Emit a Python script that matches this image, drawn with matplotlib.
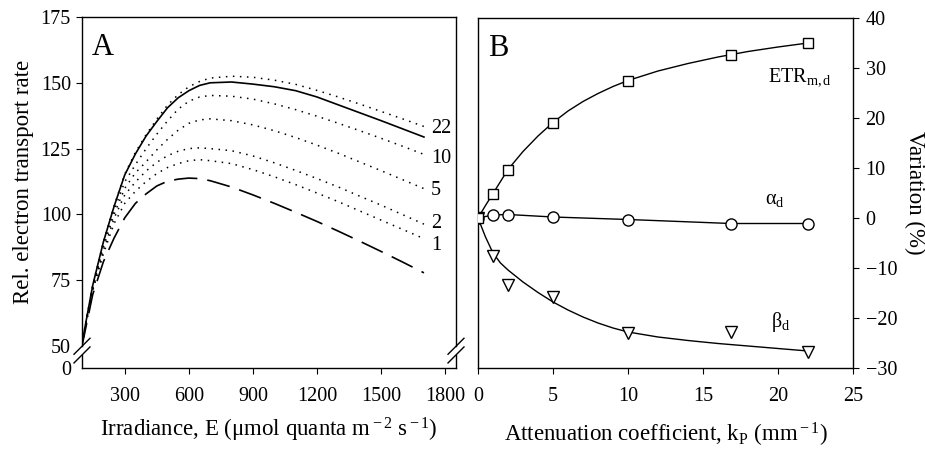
import matplotlib
matplotlib.use('Agg')
import matplotlib.pyplot as plt
from matplotlib import transforms

plt.rcParams['font.family'] = 'Liberation Serif'
plt.rcParams['mathtext.fontset'] = 'custom'
plt.rcParams['mathtext.rm'] = 'Liberation Serif'
plt.rcParams['mathtext.it'] = 'Liberation Serif:italic'

# ---- panel A : relative ETR vs irradiance ----
irr = [100, 150, 200, 250, 300, 350, 400, 450, 500, 550, 600, 650, 700,
       800, 900, 1000, 1100, 1200, 1300, 1400, 1500, 1600, 1700]
etr_solid = [51, 73, 89.5, 103, 115, 123, 129.8, 135.3, 140.5, 144.3, 147, 149, 150,
             150.3, 149.5, 148.5, 147, 144.6, 141.6, 138.6, 135.6, 132.5, 129.4]
etr_22 = [51, 73, 89.5, 103.2, 115.3, 123.6, 130.3, 136.2, 141.5, 145.5, 148.5, 150.5, 151.8,
          152.5, 152.1, 151, 149.4, 147.1, 144.6, 141.9, 139.1, 136.3, 133.4]
etr_10 = [51, 72.5, 88.5, 101.5, 112.4, 118.9, 125, 130.5, 135.5, 140, 143, 144.6, 145.2,
          144.9, 143.8, 142, 139.8, 137.3, 134.6, 131.8, 128.9, 125.9, 122.8]
etr_5 = [51, 72, 87.5, 100, 109.9, 115.8, 120, 124.5, 128.5, 132, 134.6, 135.9, 136.3,
         135.6, 134, 131.8, 129.2, 126.3, 123.2, 119.9, 116.6, 113.2, 109.8]
etr_2 = [50.5, 71.5, 86.3, 98.5, 107.4, 112.3, 116.5, 119.8, 122.3, 124, 125, 125.3, 125,
         124.2, 122.2, 119.6, 116.7, 113.6, 110.4, 106.9, 103.5, 99.9, 96.3]
etr_1 = [50.5, 71, 85, 96.5, 104.2, 108.8, 112.5, 115.5, 117.8, 119.3, 120.4, 120.8, 120.4,
         119.3, 117, 114.3, 111.3, 108.1, 104.8, 101.3, 97.8, 94.3, 90.8]
etr_dash = [50, 69.5, 82, 91, 98.7, 104.2, 107.8, 110.8, 112.6, 113.4, 113.8, 113.6, 112.8,
            110.4, 107.4, 104.2, 100.8, 97.3, 93.6, 89.8, 85.9, 81.9, 77.8]
dotted_labels = ['22', '10', '5', '2', '1']
dotted_label_y = [132.6, 121.3, 109, 96.5, 88]

# ---- panel B : variation vs attenuation coefficient ----
kp = [0, 1, 2, 5, 10, 16.85, 22]
var_etr = [0, 4.9, 9.7, 19.1, 27.5, 32.7, 35.0]
var_alpha = [0, 0.6, 0.7, 0.2, -0.3, -1.1, -1.1]
var_beta = [0, -7.6, -13.3, -15.7, -22.9, -22.8, -26.8]

kp_fit = [0, 0.5, 1, 1.5, 2, 3, 4, 5, 6, 7, 8, 9, 10, 12, 14, 16, 18, 20, 22]
etr_fit = [0, 2.5, 4.9, 7.3, 9.7, 13.3, 16.4, 19.1, 21.4, 23.3, 24.9, 26.3, 27.5,
           29.4, 30.9, 32.2, 33.3, 34.2, 35.0]
beta_fit = [0, -3.8, -7.0, -9.0, -10.4, -12.8, -14.9, -16.8, -18.4, -19.8, -21, -22, -22.8,
            -23.8, -24.5, -25.1, -25.6, -26.1, -26.6]

fig = plt.figure(figsize=(9.25, 4.49), dpi=100)
axA = fig.add_axes([82/925, 1-368/449, (456-82)/925, (368-17)/449])
axB = fig.add_axes([478/925, 1-368/449, (853-478)/925, (368-18)/449])

FS = 14.5
LFS = 16.5
dots = (0, (1, 3.6))

# panel A
y_zero = 50 - 22/(65.8/25)   # where "0" sits below the axis break
axA.plot(irr, etr_solid, color='k', lw=1.2)
for ys in [etr_22, etr_10, etr_5, etr_2, etr_1]:
    axA.plot(irr, ys, color='k', lw=1.1, ls=dots)
axA.plot(irr, etr_dash, color='k', lw=1.2, ls=(0, (14, 6)))
for lab, yy in zip(dotted_labels, dotted_label_y):
    axA.text(1733, yy, lab, fontsize=FS, ha='left', va='center')

axA.set_xlim(100, 1850)
axA.set_ylim(y_zero, 175)
axA.set_xticks([300, 600, 900, 1200, 1500, 1800])
axA.set_yticks([y_zero, 50, 75, 100, 125, 150, 175], ['0', '50', '75', '100', '125', '150', '175'])
axA.tick_params(direction='out', length=4, width=0.8, labelsize=FS)
axA.tick_params(axis='x', pad=10)
axA.tick_params(axis='y', pad=4)
for t in axA.yaxis.get_major_ticks()[:2]:
    t.tick1line.set_visible(False)
axA.set_xlabel('Irradiance, E (μmol quanta m$^{\\rm -2}$ s$^{\\rm -1}$)', fontsize=LFS)
axA.xaxis.set_label_coords(0.5, -0.135)
axA.set_ylabel('Rel. electron transport rate', fontsize=LFS)
axA.yaxis.set_label_coords(-0.128, 0.53)
axA.text(0.027, 0.912, 'A', transform=axA.transAxes, fontsize=22, va='center')

# axis break on both vertical spines
axA.spines['left'].set_visible(False)
axA.spines['right'].set_visible(False)
for sp in ['top', 'bottom']:
    axA.spines[sp].set_linewidth(1.0)
tr = transforms.blended_transform_factory(axA.transAxes, axA.transData)
b_lo, b_hi = 46.6, 49.9
for xs in [0, 1]:
    axA.plot([xs, xs], [y_zero, b_lo], color='k', lw=1.0, transform=tr, clip_on=False)
    axA.plot([xs, xs], [b_hi, 175], color='k', lw=1.0, transform=tr, clip_on=False)
dx, dy = 8/374, 8/351
for yb in [b_lo, b_hi]:
    ya = (yb - y_zero)/(175 - y_zero)
    for xs in [0, 1]:
        axA.plot([xs - dx, xs + dx], [ya - dy, ya + dy], color='k', lw=1.0,
                 transform=axA.transAxes, clip_on=False)

# panel B
axB.plot(kp_fit, etr_fit, color='k', lw=1.0, zorder=2)
axB.plot(kp, var_alpha, color='k', lw=1.0, zorder=2)
axB.plot(kp_fit, beta_fit, color='k', lw=1.0, zorder=2)
axB.plot(kp, var_beta, ls='none', marker='v', ms=8, mfc='white', mec='k', mew=1.0, zorder=3)
axB.plot(kp, var_alpha, ls='none', marker='o', ms=8, mfc='white', mec='k', mew=1.0, zorder=3)
axB.plot(kp, var_etr, ls='none', marker='s', ms=7.5, mfc='white', mec='k', mew=1.0, zorder=4)

axB.text(19.3, 28.2, r'ETR$_{\rm m,d}$', fontsize=FS, va='center')
axB.text(19.1, 3.7, r'α$_{\rm d}$', fontsize=FS, va='center')
axB.text(19.5, -20.8, r'β$_{\rm d}$', fontsize=FS, va='center')
axB.text(0.027, 0.912, 'B', transform=axB.transAxes, fontsize=22, va='center')

axB.set_xlim(0, 25)
axB.set_ylim(-30, 40)
axB.set_xticks([0, 5, 10, 15, 20, 25])
axB.set_yticks([-30, -20, -10, 0, 10, 20, 30, 40])
axB.yaxis.tick_right()
axB.yaxis.set_label_position('right')
axB.tick_params(direction='out', length=4, width=0.8, labelsize=FS)
axB.tick_params(axis='x', pad=10)
axB.tick_params(axis='y', pad=5)
axB.set_xlabel(r'Attenuation coefficient, k$_{\rm P}$ (mm$^{\rm -1}$)', fontsize=LFS)
axB.xaxis.set_label_coords(0.5, -0.15)
axB.set_ylabel('Variation (%)', fontsize=LFS, rotation=270, labelpad=20)
for sp in axB.spines.values():
    sp.set_linewidth(1.0)

fig.savefig('out.png', dpi=100)
